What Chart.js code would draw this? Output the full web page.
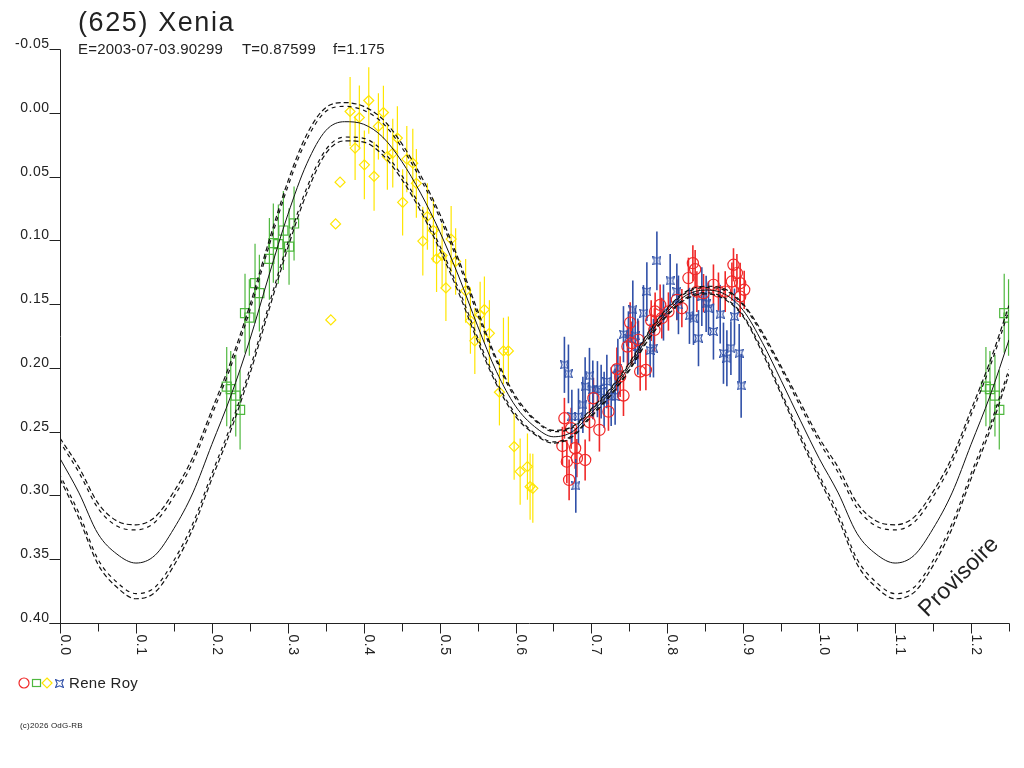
<!DOCTYPE html>
<html><head><meta charset="utf-8">
<script src="https://cdn.jsdelivr.net/npm/chart.js@4.4.1/dist/chart.umd.min.js"></script>
<style>html,body{margin:0;padding:0;background:#fff}canvas{display:block}</style>
</head><body><canvas id="c" width="1024" height="768"></canvas>
<script>
// ---------- texts ----------
const titleText = "(625) Xenia";
const subtitleParts = ["E=2003-07-03.90299", "T=0.87599", "f=1.175"];
const observerName = "Rene Roy";
const copyrightText = "(c)2026 OdG-RB";
const watermarkText = "Provisoire";

// ---------- ticks ----------
const xTickValues = [0.0,0.1,0.2,0.3,0.4,0.5,0.6,0.7,0.8,0.9,1.0,1.1,1.2];
const xTickLabels = ["0.0","0.1","0.2","0.3","0.4","0.5","0.6","0.7","0.8","0.9","1.0","1.1","1.2"];
const xMinorValues = [0.05,0.15,0.25,0.35,0.45,0.55,0.65,0.75,0.85,0.95,1.05,1.15,1.25];
const yTickValues = [-0.05,0.00,0.05,0.10,0.15,0.20,0.25,0.30,0.35,0.40];
const yTickLabels = ["-0.05","0.00","0.05","0.10","0.15","0.20","0.25","0.30","0.35","0.40"];

// ---------- fitted light curve ----------
const curvePhase = [0.000,0.025,0.050,0.075,0.100,0.125,0.150,0.175,0.200,0.225,0.250,0.275,0.300,0.325,0.350,0.375,0.400,0.425,0.450,0.475,0.500,0.525,0.550,0.575,0.600,0.625,0.650,0.675,0.700,0.725,0.750,0.775,0.800,0.825,0.850,0.875,0.900,0.925,0.950,0.975,1.000,1.025,1.050,1.075,1.100,1.125,1.150,1.175,1.200,1.225,1.250];
const curveMag = [0.271,0.298,0.330,0.346,0.353,0.347,0.326,0.298,0.260,0.222,0.178,0.128,0.080,0.040,0.014,0.007,0.009,0.019,0.038,0.063,0.093,0.128,0.167,0.203,0.230,0.246,0.254,0.250,0.235,0.219,0.199,0.175,0.156,0.143,0.139,0.142,0.155,0.180,0.210,0.241,0.271,0.298,0.330,0.346,0.353,0.347,0.326,0.298,0.260,0.222,0.178];
const upperOuter = [0.255,0.278,0.306,0.320,0.323,0.317,0.297,0.270,0.233,0.195,0.151,0.101,0.054,0.017,-0.004,-0.008,-0.005,0.005,0.024,0.049,0.079,0.115,0.155,0.193,0.222,0.240,0.249,0.246,0.232,0.216,0.196,0.172,0.153,0.140,0.136,0.138,0.150,0.172,0.199,0.227,0.255,0.278,0.306,0.320,0.323,0.317,0.297,0.270,0.233,0.195,0.151];
const upperInner = [0.258,0.282,0.310,0.324,0.327,0.321,0.301,0.274,0.237,0.199,0.155,0.105,0.058,0.021,-0.001,-0.005,-0.002,0.008,0.027,0.052,0.082,0.118,0.158,0.195,0.224,0.241,0.250,0.247,0.233,0.217,0.197,0.173,0.154,0.141,0.137,0.139,0.151,0.174,0.201,0.230,0.258,0.282,0.310,0.324,0.327,0.321,0.301,0.274,0.237,0.199,0.155];
const lowerInner = [0.284,0.314,0.350,0.368,0.377,0.372,0.351,0.322,0.283,0.245,0.201,0.151,0.102,0.059,0.029,0.019,0.020,0.030,0.049,0.074,0.104,0.138,0.176,0.211,0.236,0.251,0.258,0.253,0.237,0.221,0.201,0.177,0.158,0.145,0.141,0.145,0.159,0.186,0.219,0.252,0.284,0.314,0.350,0.368,0.377,0.372,0.351,0.322,0.283,0.245,0.201];
const lowerOuter = [0.287,0.318,0.354,0.372,0.381,0.376,0.355,0.326,0.287,0.249,0.205,0.155,0.106,0.063,0.032,0.022,0.023,0.033,0.052,0.077,0.107,0.141,0.179,0.213,0.238,0.252,0.259,0.254,0.238,0.222,0.202,0.178,0.159,0.146,0.142,0.146,0.160,0.188,0.221,0.255,0.287,0.318,0.354,0.372,0.381,0.376,0.355,0.326,0.287,0.249,0.205];

// ---------- observations (phase, relative magnitude, error) ----------
const greenPhase = [0.2196,0.2249,0.2315,0.2372,0.2437,0.2494,0.2569,0.2626,0.2758,0.2810,0.2876,0.2942,0.3017,0.3083];
const greenMag   = [0.2147,0.2167,0.2217,0.2329,0.1571,0.1605,0.1336,0.1414,0.1145,0.1022,0.1030,0.0923,0.1049,0.0868];
const greenErr   = [0.031,0.030,0.032,0.031,0.031,0.030,0.031,0.030,0.032,0.031,0.031,0.031,0.030,0.029];

const yellowPhase = [0.3821,0.4067,0.3943,0.4260,0.4194,0.3887,0.4444,0.4009,0.4312,0.4383,0.4568,0.4647,0.4137,0.3689,0.4694,0.4513,0.3630,0.4839,0.4918,0.4779,0.5152,0.4960,0.5033,0.5211,0.3567,0.5083,0.5343,0.5406,0.5534,0.5590,0.5656,0.5464,0.5841,0.5906,0.5788,0.5982,0.6061,0.6157,0.6192,0.6228];
const yellowMag   = [-0.0010,-0.0096,0.0037,-0.0002,0.0107,0.0277,0.0198,0.0408,0.0343,0.0316,0.0363,0.0395,0.0498,0.0544,0.0553,0.0702,0.0871,0.0813,0.0922,0.1006,0.0990,0.1145,0.1119,0.1166,0.1624,0.1373,0.1396,0.1629,0.1584,0.1543,0.1729,0.1788,0.1867,0.1867,0.2191,0.2617,0.2813,0.2774,0.2931,0.2944];
const yellowErr   = [0.027,0.026,0.025,0.021,0.026,0.025,0.025,0.027,0.026,0.027,0.026,0.027,0.027,0,0.027,0.026,0,0.026,0.025,0.027,0.026,0.026,0.025,0.026,0,0.026,0.025,0.026,0.026,0.026,0.026,0.026,0.026,0.027,0.026,0.026,0.026,0.026,0.026,0.027];

const redPhase = [0.6644,0.6618,0.6785,0.6676,0.6808,0.6917,0.6706,0.6974,0.7105,0.7026,0.7224,0.7422,0.7335,0.7378,0.7642,0.7717,0.7510,0.7532,0.7619,0.7474,0.7787,0.7839,0.7905,0.7830,0.7927,0.8014,0.8125,0.8191,0.8278,0.8336,0.8366,0.8389,0.8476,0.8607,0.8673,0.8762,0.8850,0.8871,0.8916,0.8959,0.9012,0.8959,0.6733];
const redMag   = [0.2395,0.2612,0.2630,0.2735,0.2708,0.2722,0.2878,0.2426,0.2486,0.2238,0.2343,0.2217,0.2010,0.2068,0.2029,0.2016,0.1645,0.1806,0.1780,0.1833,0.1629,0.1558,0.1506,0.1702,0.1610,0.1558,0.1467,0.1532,0.1296,0.1179,0.1226,0.1402,0.1414,0.1349,0.1402,0.1402,0.1323,0.1192,0.1257,0.1336,0.1388,0.1441,0.2473];
const redErr   = [0.016,0.015,0.016,0.017,0.015,0.016,0.016,0.015,0.017,0.016,0.015,0.016,0.017,0.016,0.015,0.016,0.016,0.017,0.015,0.016,0.016,0.015,0.016,0.017,0.016,0.015,0.016,0.015,0.016,0.014,0.015,0.016,0.015,0.016,0.015,0.016,0.015,0.013,0.015,0.016,0.015,0.016,0.016];

const bluePhase = [0.6644,0.6697,0.6794,0.6974,0.6917,0.6887,0.6742,0.6829,0.7018,0.7079,0.7128,0.7167,0.7260,0.7312,0.7203,0.7348,0.7422,0.7487,0.7545,0.7611,0.7576,0.7817,0.7773,0.7685,0.7730,0.7862,0.7949,0.8037,0.8125,0.8146,0.8291,0.8344,0.8410,0.8454,0.8511,0.8542,0.8607,0.8696,0.8739,0.8784,0.8837,0.8884,0.8946,0.8972];
const blueMag   = [0.1976,0.2047,0.2925,0.2063,0.2147,0.2290,0.2382,0.2382,0.2173,0.2167,0.2186,0.2251,0.2225,0.2225,0.2107,0.2002,0.1736,0.1767,0.1545,0.1833,0.1749,0.1845,0.1864,0.1571,0.1402,0.1161,0.1566,0.1318,0.1402,0.1506,0.1592,0.1610,0.1767,0.1441,0.1498,0.1532,0.1715,0.1579,0.1885,0.1924,0.1845,0.1598,0.1885,0.2141];
const blueErr   = [0.022,0.023,0.021,0.022,0.023,0.022,0.021,0.022,0.023,0.022,0.021,0.022,0.023,0.022,0.021,0.023,0.022,0.021,0.023,0.022,0.022,0.023,0.021,0.022,0.023,0.023,0.022,0.021,0.022,0.023,0.022,0.021,0.022,0.023,0.022,0.021,0.022,0.023,0.024,0.022,0.021,0.022,0.023,0.025];

// ---------- styles ----------
const COL = {red:'#f02828', green:'#4fb83f', yellow:'#ffe600', blue:'#3050a8', ink:'#222222', curve:'#111111'};
const FONT = '"Liberation Sans", Arial, sans-serif';

function starImage(color){
  const c = document.createElement('canvas'); c.width = 9; c.height = 9;
  const g = c.getContext('2d'); g.strokeStyle = color; g.lineWidth = 1.1;
  g.beginPath();
  g.moveTo(0.5,0.5); g.lineTo(4.5,2.2); g.lineTo(8.5,0.5); g.lineTo(6.8,4.5);
  g.lineTo(8.5,8.5); g.lineTo(4.5,6.8); g.lineTo(0.5,8.5); g.lineTo(2.2,4.5);
  g.closePath(); g.stroke();
  return c;
}
const blueStar = starImage(COL.blue);

// build {x,y,e}; observations with phase < 0.25 are also shown at phase + 1
function obs(ph, mg, er){
  const out = [];
  for (let i = 0; i < ph.length; i++){
    out.push({x: ph[i], y: mg[i], e: er[i]});
    if (ph[i] + 1 <= 1.25) out.push({x: ph[i] + 1, y: mg[i], e: er[i]});
  }
  return out;
}
function line(ph, mg){ return ph.map((p, i) => ({x: p, y: mg[i]})); }

const curveBase = {showLine: true, pointRadius: 0, fill: false, cubicInterpolationMode: 'monotone'};
const datasets = [
  Object.assign({data: line(curvePhase, curveMag), borderColor: COL.curve, borderWidth: 1}, curveBase),
  Object.assign({data: line(curvePhase, upperOuter), borderColor: COL.curve, borderWidth: 1.2, borderDash: [5,3]}, curveBase),
  Object.assign({data: line(curvePhase, upperInner), borderColor: COL.curve, borderWidth: 1.2, borderDash: [4,4], borderDashOffset: 2}, curveBase),
  Object.assign({data: line(curvePhase, lowerInner), borderColor: COL.curve, borderWidth: 1.2, borderDash: [4,4], borderDashOffset: 2}, curveBase),
  Object.assign({data: line(curvePhase, lowerOuter), borderColor: COL.curve, borderWidth: 1.2, borderDash: [5,3]}, curveBase),
  {data: obs(redPhase, redMag, redErr), pointStyle: 'circle', pointRadius: 5.6, borderColor: COL.red, backgroundColor: 'rgba(0,0,0,0)', pointBorderWidth: 1.2, errWidth: 1.6},
  {data: obs(bluePhase, blueMag, blueErr), pointStyle: blueStar, pointRadius: 4.5, borderColor: COL.blue, backgroundColor: 'rgba(0,0,0,0)', pointBorderWidth: 1, errWidth: 1.6},
  {data: obs(yellowPhase, yellowMag, yellowErr), pointStyle: 'rectRot', pointRadius: 5, borderColor: COL.yellow, backgroundColor: 'rgba(0,0,0,0)', pointBorderWidth: 1.2, errWidth: 1.2},
  {data: obs(greenPhase, greenMag, greenErr), pointStyle: 'rect', pointRadius: 6.4, borderColor: COL.green, backgroundColor: 'rgba(0,0,0,0)', pointBorderWidth: 1.2, errWidth: 1.2}
];

function setSpacing(ctx, s){ try { ctx.letterSpacing = s; } catch(e){} }

const decor = {
  id: 'decor',
  beforeDatasetsDraw(chart){
    const ctx = chart.ctx, xs = chart.scales.x, ys = chart.scales.y;
    ctx.save();
    chart.data.datasets.forEach(ds => {
      if (!ds.errWidth) return;
      ctx.strokeStyle = ds.borderColor; ctx.lineWidth = ds.errWidth;
      ds.data.forEach(d => {
        if (!d.e) return;
        const px = xs.getPixelForValue(d.x);
        ctx.beginPath();
        ctx.moveTo(px, ys.getPixelForValue(d.y - d.e));
        ctx.lineTo(px, ys.getPixelForValue(d.y + d.e));
        ctx.stroke();
      });
    });
    ctx.restore();
  },
  afterDraw(chart){
    const ctx = chart.ctx, xs = chart.scales.x, ys = chart.scales.y;
    ctx.save();
    ctx.strokeStyle = COL.ink; ctx.fillStyle = COL.ink; ctx.lineWidth = 1;
    const x0 = Math.round(xs.getPixelForValue(0)) + 0.5;
    const xEnd = Math.round(xs.getPixelForValue(1.25)) + 0.5;
    const yTop = Math.round(ys.getPixelForValue(-0.05)) + 0.5;
    const yBot = Math.round(ys.getPixelForValue(0.40)) + 0.5;
    // axes
    ctx.beginPath();
    ctx.moveTo(x0, yTop); ctx.lineTo(x0, yBot);
    ctx.moveTo(x0 - 11, yBot); ctx.lineTo(xEnd, yBot);
    ctx.stroke();
    // y ticks & labels
    ctx.font = '14px ' + FONT; setSpacing(ctx, '0.5px');
    ctx.textAlign = 'right'; ctx.textBaseline = 'alphabetic';
    yTickValues.forEach((v, i) => {
      const py = Math.round(ys.getPixelForValue(v)) + 0.5;
      ctx.beginPath(); ctx.moveTo(x0 - 11, py); ctx.lineTo(x0, py); ctx.stroke();
      ctx.fillText(yTickLabels[i], x0 - 11, py - 2);
    });
    // x ticks
    ctx.beginPath();
    xTickValues.forEach(v => { const px = Math.round(xs.getPixelForValue(v)) + 0.5; ctx.moveTo(px, yBot); ctx.lineTo(px, yBot + 10); });
    xMinorValues.forEach(v => { const px = Math.round(xs.getPixelForValue(v)) + 0.5; ctx.moveTo(px, yBot); ctx.lineTo(px, yBot + 8); });
    ctx.stroke();
    // x labels rotated (reading downward)
    ctx.textAlign = 'left';
    xTickValues.forEach((v, i) => {
      const px = xs.getPixelForValue(v);
      ctx.save(); ctx.translate(px + 1, yBot + 11); ctx.rotate(Math.PI / 2);
      ctx.fillText(xTickLabels[i], 0, 0); ctx.restore();
    });
    // title and subtitle
    ctx.font = '27px ' + FONT; setSpacing(ctx, '1.6px');
    ctx.fillText(titleText, 78, 31);
    ctx.font = '15px ' + FONT; setSpacing(ctx, '0.2px');
    ctx.fillText(subtitleParts[0], 78, 54);
    ctx.fillText(subtitleParts[1], 242, 54);
    ctx.fillText(subtitleParts[2], 333, 54);
    // watermark
    ctx.save(); ctx.font = '23px ' + FONT; setSpacing(ctx, '0px');
    ctx.translate(959, 577); ctx.rotate(-Math.PI / 4);
    ctx.textAlign = 'center'; ctx.textBaseline = 'middle';
    ctx.fillText(watermarkText, 0, 0); ctx.restore();
    // legend
    const ly = 683;
    ctx.lineWidth = 1.2;
    ctx.strokeStyle = COL.red; ctx.beginPath(); ctx.arc(24, ly, 5, 0, Math.PI * 2); ctx.stroke();
    ctx.strokeStyle = COL.green; ctx.strokeRect(32.5, ly - 3.5, 8, 7);
    ctx.strokeStyle = COL.yellow; ctx.beginPath(); ctx.moveTo(47, ly - 5); ctx.lineTo(52, ly); ctx.lineTo(47, ly + 5); ctx.lineTo(42, ly); ctx.closePath(); ctx.stroke();
    ctx.drawImage(blueStar, 55, ly - 4);
    ctx.fillStyle = COL.ink; ctx.font = '15px ' + FONT; setSpacing(ctx, '0.3px');
    ctx.textAlign = 'left'; ctx.textBaseline = 'alphabetic';
    ctx.fillText(observerName, 69, 688);
    // copyright
    ctx.font = '8px ' + FONT; setSpacing(ctx, '0.2px');
    ctx.fillText(copyrightText, 20, 728);
    ctx.restore();
  }
};

new Chart(document.getElementById('c'), {
  type: 'scatter',
  data: {datasets},
  options: {
    responsive: false, animation: false, devicePixelRatio: 1, events: [],
    layout: {padding: {left: 60, right: 15, top: 49, bottom: 145}},
    plugins: {legend: {display: false}, tooltip: {enabled: false}, title: {display: false}},
    scales: {
      x: {type: 'linear', display: false, min: 0, max: 1.25},
      y: {type: 'linear', display: false, min: -0.05, max: 0.40, reverse: true}
    }
  },
  plugins: [decor]
});
</script>
</body></html>
